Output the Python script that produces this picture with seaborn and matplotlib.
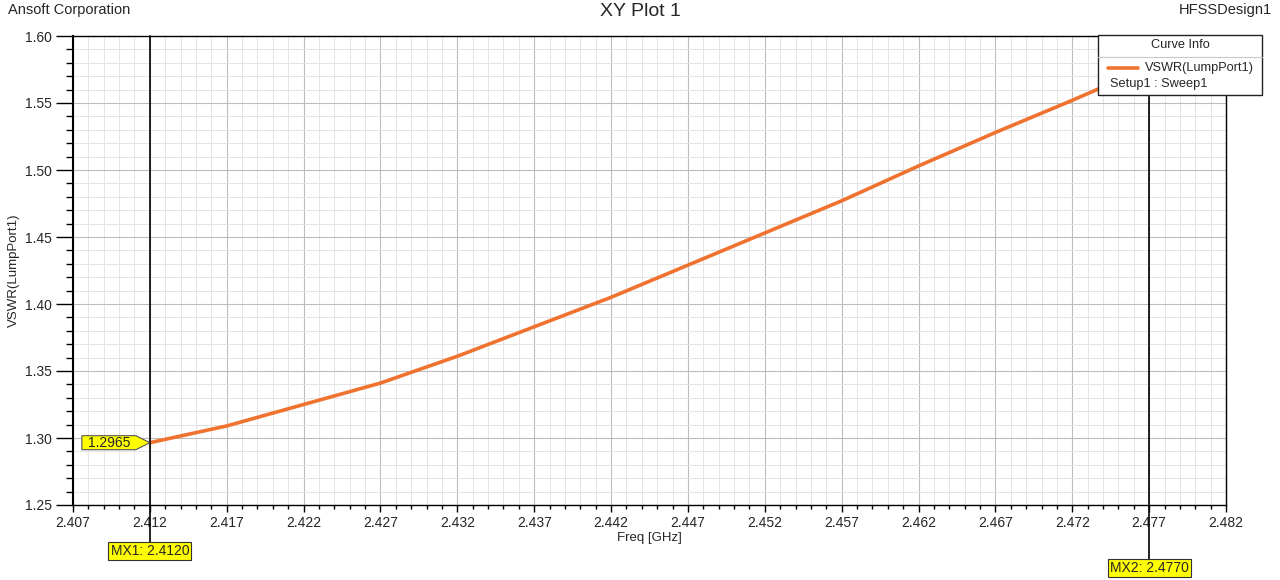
import numpy as np
import pandas as pd
import matplotlib
matplotlib.use("Agg")
import matplotlib.pyplot as plt
import matplotlib.transforms as mtransforms
from matplotlib.patches import Polygon, Rectangle
from matplotlib.lines import Line2D
from matplotlib.ticker import MultipleLocator
import seaborn as sns

# data
freq_ghz = [2.412, 2.417, 2.422, 2.427, 2.432, 2.437, 2.442,
            2.447, 2.452, 2.457, 2.462, 2.467, 2.472, 2.477]
vswr = [1.2965, 1.309, 1.325, 1.341, 1.361, 1.383, 1.405,
        1.429, 1.453, 1.477, 1.503, 1.528, 1.552, 1.577]
x_ticks = [2.407, 2.412, 2.417, 2.422, 2.427, 2.432, 2.437, 2.442,
           2.447, 2.452, 2.457, 2.462, 2.467, 2.472, 2.477, 2.482]
y_ticks = [1.25, 1.30, 1.35, 1.40, 1.45, 1.50, 1.55, 1.60]
markers = [("MX1", 2.4120), ("MX2", 2.4770)]
point_label = (2.412, 1.2965)

df = pd.DataFrame({"freq": freq_ghz, "vswr": vswr})

sns.set_style("white")
plt.rcParams["font.family"] = ["Liberation Sans", "DejaVu Sans"]

W, H = 1280, 580
fig = plt.figure(figsize=(12.8, 5.8), dpi=100)
ax = fig.add_axes([73 / W, 1 - 505 / H, (1226 - 73) / W, (505 - 36) / H])

curve_color = "#f0722f"
sns.lineplot(data=df, x="freq", y="vswr", ax=ax, color=curve_color,
             linewidth=2.6, zorder=3)

ax.set_xlim(x_ticks[0], x_ticks[-1])
ax.set_ylim(y_ticks[0], y_ticks[-1])
ax.set_xticks(x_ticks)
ax.set_xticklabels([f"{v:.3f}" for v in x_ticks])
ax.set_yticks(y_ticks)
ax.set_yticklabels([f"{v:.2f}" for v in y_ticks])
ax.xaxis.set_minor_locator(MultipleLocator(0.001))
ax.yaxis.set_minor_locator(MultipleLocator(0.01))
ax.grid(which="major", color="#bdbdbd", linewidth=0.8)
ax.grid(which="minor", color="#e4e4e4", linewidth=0.7)
ax.set_axisbelow(True)
ax.tick_params(axis="y", which="major", direction="out", length=12, width=1,
               labelsize=10, pad=3, color="black", left=True)
ax.tick_params(axis="y", which="minor", direction="out", length=5, width=1,
               color="black", left=True)
ax.tick_params(axis="x", which="major", direction="out", length=5, width=1,
               labelsize=10, pad=3, color="black", bottom=True)
ax.tick_params(axis="x", which="minor", direction="out", length=3, width=1,
               color="black", bottom=True)
for s in ax.spines.values():
    s.set_color("black")
    s.set_linewidth(1.0)
ax.spines["left"].set_linewidth(1.5)

ax.set_xlabel("Freq [GHz]", fontsize=9.5, labelpad=1)
ax.set_ylabel("VSWR(LumpPort1)", fontsize=9.5, labelpad=4)

# header texts
fig.text(8 / W, 1 - 10 / H, "Ansoft Corporation", fontsize=10.5, va="center", ha="left")
fig.text(0.5, 1 - 12 / H, "XY Plot 1", fontsize=14, va="center", ha="center")
fig.text(1272 / W, 1 - 10 / H, "HFSSDesign1", fontsize=10.5, va="center", ha="right")

# marker lines and labels
blend = mtransforms.blended_transform_factory(ax.transData, fig.transFigure)
label_y = [1 - 551 / H, 1 - 568 / H]
for (name, xv), ly in zip(markers, label_y):
    ax.add_line(Line2D([xv, xv], [1 - 36 / H, ly], transform=blend,
                       color="black", linewidth=1.2, clip_on=False, zorder=5))
    ax.text(xv, ly, f"{name}: {xv:.4f}", transform=blend, ha="center", va="center",
            fontsize=10, zorder=6,
            bbox=dict(boxstyle="square,pad=0.15", facecolor="#ffff00",
                      edgecolor="#333333", linewidth=0.8))

# value tag at the first marker
fig.canvas.draw()
tx, ty = ax.transData.transform(point_label)
pts = [(tx, ty), (tx - 14, ty + 7), (tx - 68, ty + 7), (tx - 68, ty - 7), (tx - 14, ty - 7)]
tag = Polygon(pts, closed=True, transform=None, facecolor="#ffff00",
              edgecolor="#555555", linewidth=0.8, zorder=7, clip_on=False)
fig.patches.append(tag)
fig.text((tx - 41) / W, ty / H, f"{point_label[1]:.4f}", ha="center", va="center",
         fontsize=10, zorder=8)

# curve info box
bx0, bx1, by0, by1 = 1098, 1262, 35, 95
fig.patches.append(Rectangle((bx0 / W, 1 - by1 / H), (bx1 - bx0) / W, (by1 - by0) / H,
                             transform=fig.transFigure, facecolor="white",
                             edgecolor="#222222", linewidth=1.0, zorder=10))
fig.text((bx0 + bx1) / 2 / W, 1 - 45 / H, "Curve Info", ha="center", va="center",
         fontsize=9.2, zorder=11)
fig.lines.append(Line2D([bx0 / W, bx1 / W], [1 - 57 / H, 1 - 57 / H],
                        transform=fig.transFigure, color="#c8c8c8", linewidth=0.8, zorder=11))
fig.lines.append(Line2D([1108 / W, 1138 / W], [1 - 68 / H, 1 - 68 / H],
                        transform=fig.transFigure, color=curve_color, linewidth=2.6, zorder=11))
fig.text(1145 / W, 1 - 68 / H, "VSWR(LumpPort1)", ha="left", va="center",
         fontsize=9.2, zorder=11)
fig.text(1110 / W, 1 - 84 / H, "Setup1 : Sweep1", ha="left", va="center",
         fontsize=9.2, zorder=11)

fig.savefig("out.png", dpi=100)
